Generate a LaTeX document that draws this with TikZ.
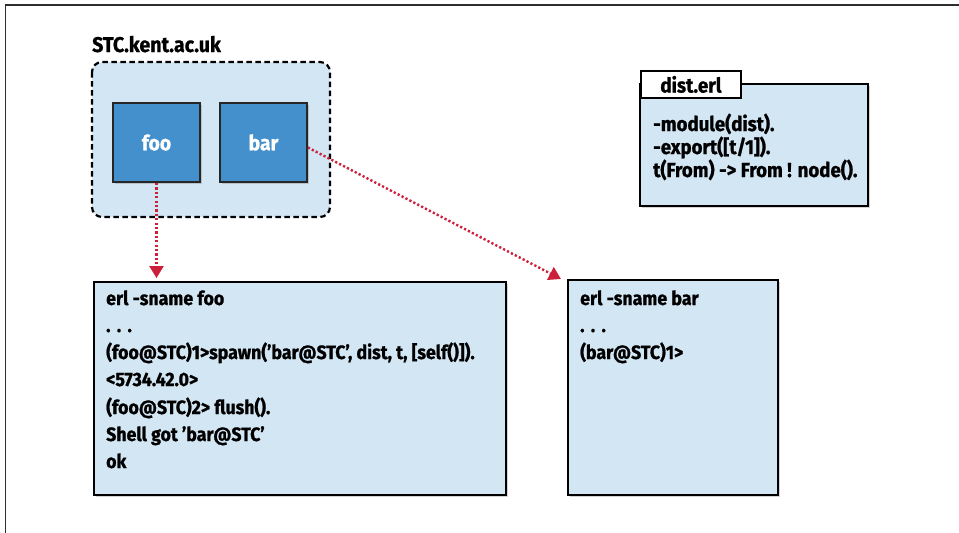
\documentclass[tikz,border=0pt]{standalone}
\usepackage{fontspec}
\setmainfont{Fira Sans}[FakeStretch=0.92, BoldFeatures={FakeBold=1}]
\usetikzlibrary{arrows.meta,shadows,calc}
\definecolor{paleblue}{HTML}{D3E6F4}
\definecolor{midblue}{HTML}{4390CC}
\definecolor{arrowred}{HTML}{CC1F3A}
\definecolor{framegray}{HTML}{2E2E2E}
\tikzset{
  shellbox/.style={draw=black, line width=1.8pt, fill=paleblue,
    drop shadow={shadow xshift=2pt, shadow yshift=-2pt, opacity=0.35, fill=gray}},
  procbox/.style={draw=black!85, line width=1.8pt, fill=midblue, text=white,
    font=\fontsize{21}{24}\selectfont\bfseries, minimum width=87pt, minimum height=79pt,
    inner sep=0pt, drop shadow={shadow xshift=2pt, shadow yshift=-2pt, opacity=0.35, fill=gray}},
  hostbox/.style={draw=black, line width=2.2pt, dash pattern=on 5.5pt off 3.5pt,
    fill=paleblue, rounded corners=10pt},
  codeline/.style={anchor=base west, inner sep=0pt, font=\fontsize{19.3}{22}\selectfont\bfseries},
  distline/.style={codeline, font=\fontsize{20.3}{22}\selectfont\bfseries},
  msgarrow/.style={draw=arrowred, line width=2.4pt, dash pattern=on 2.2pt off 2.2pt,
    -{Triangle[width=14pt,length=12pt,fill=arrowred]}},
  framestroke/.style={draw=framegray, line width=1.5pt}
}
\begin{document}
\begin{tikzpicture}[x=1pt,y=-1pt]
\useasboundingbox (0,0) rectangle (959,533);
% partial frame
\coordinate (fr0) at (959,5);
\coordinate (fr1) at (5.5,5);
\coordinate (fr2) at (5.5,533);
\draw[framestroke] (fr0) -- (fr1) -- (fr2);

% host
\node[codeline, font=\fontsize{21.3}{24}\selectfont\bfseries] (host) at (92,52) {STC.kent.ac.uk};
\path[hostbox] (92,62) rectangle (330,217);
\node[procbox] (foo) at (156.5,142.5) {foo};
\node[procbox] (bar) at (263.5,142.5) {bar};

% dist.erl
\path[shellbox] (640,84) rectangle (868,206);
\node[draw=black, line width=1.8pt, fill=white, minimum width=100pt, minimum height=27pt,
  inner sep=0pt, anchor=north west, font=\fontsize{20.5}{22}\selectfont\bfseries] (tab) at (640,70) {dist.erl};
\node[distline] (d1) at (653,131) {-module(dist).};
\node[distline] (d2) at (653,154) {-export([t/1]).};
\node[distline] (d3) at (653,177) {t(From) -> From ! node().};

% foo shell
\node[shellbox, anchor=north west, minimum width=412pt, minimum height=213pt, inner sep=0pt] (fooshell) at (93,281) {};
\node[codeline] (f1) at (106,305) {erl -sname foo};
\node[codeline] (f2) at (106,332) {.\,\,.\,\,.};
\node[codeline] (f3) at (106,359) {(foo@STC)1>spawn('bar@STC', dist, t, [self()]).};
\node[codeline] (f4) at (106,386) {<5734.42.0>};
\node[codeline] (f5) at (106,414) {(foo@STC)2> flush().};
\node[codeline] (f6) at (106,441) {Shell got 'bar@STC'};
\node[codeline] (f7) at (106,468) {ok};

% bar shell
\node[shellbox, anchor=north west, minimum width=210pt, minimum height=215pt, inner sep=0pt] (barshell) at (567,279) {};
\node[codeline] (b1) at (580,305) {erl -sname bar};
\node[codeline] (b2) at (580,332) {.\,\,.\,\,.};
\node[codeline] (b3) at (580,359) {(bar@STC)1>};

% arrows
\coordinate (fooend) at (156.5,278);
\coordinate (barend) at (561,279);
\draw[msgarrow] (foo.south) -- (fooend);
\draw[msgarrow] ($(bar.east)+(0,5)$) -- (barend);
\end{tikzpicture}
\end{document}
